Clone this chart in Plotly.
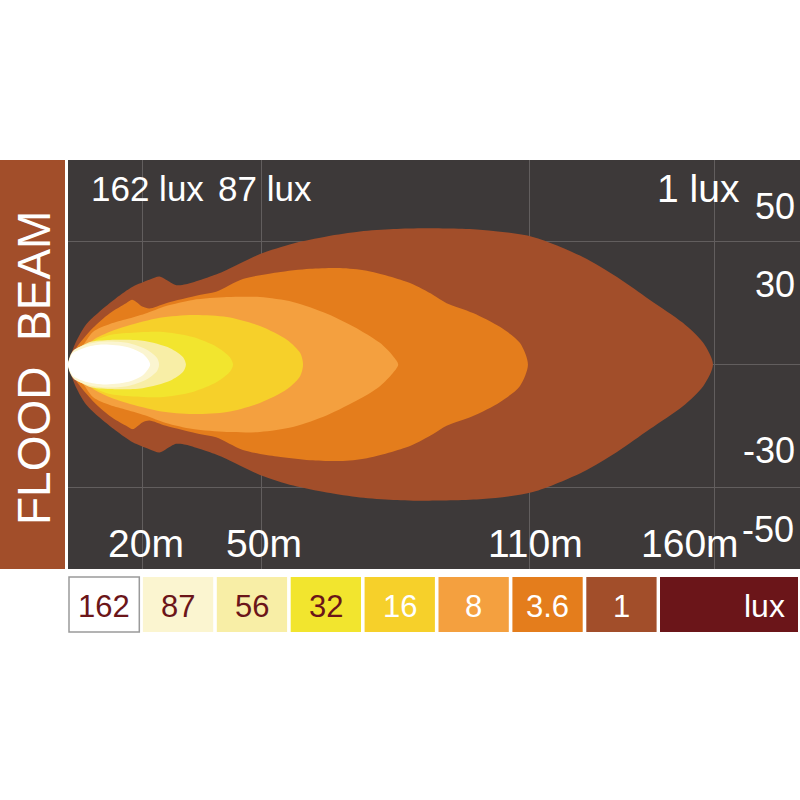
import plotly.graph_objects as go

# ---------------- data ----------------
# Isolux contours: distance along the beam (d) and half-width of the upper edge (h).
# Lower edge is the mirror image of the upper edge.
lux_labels = ["162", "87", "56", "32", "16", "8", "3.6", "1"]
lux_colors = ["#FFFFFF", "#FBF5D0", "#F8EEA6", "#F2E52E", "#F6D02A", "#F4A03F", "#E47D1C", "#A24E2A"]
lux_text_colors = ["#6B1519", "#6B1519", "#6B1519", "#6B1519", "#FFFFFF", "#FFFFFF", "#FFFFFF", "#FFFFFF"]
unit_label = "lux"
unit_color = "#6B1519"

d_1 = [0, 0.7, 2.0, 4.4, 7.7, 11.8, 15.9, 20.0, 22.5, 24.1, 26.6, 29.0, 32.3, 36.4, 39.0,
       47.2, 55.4, 63.6, 71.8, 80.0, 88.2, 102.0, 114.3, 126.6, 135.0, 143.1, 151.2, 156.2, 158.6]
h_1 = [0, 2.3, 5.6, 9.7, 12.9, 16.2, 19.0, 20.7, 21.5, 20.7, 19.4, 19.6, 20.6, 22.0, 23.1,
       27.0, 29.6, 31.3, 32.5, 33.1, 33.3, 32.9, 31.2, 26.3, 21.4, 15.8, 10.2, 5.3, 0]

d_3_6 = [0, 1.0, 2.0, 6.1, 10.2, 14.3, 15.9, 18.4, 20.0, 24.1, 32.3, 36.4, 43.0, 51.4, 59.5,
         66.9, 73.5, 84.1, 89.8, 93.1, 99.6, 106.2, 111.1, 113.1]
h_3_6 = [0, 1.8, 4.0, 8.9, 12.5, 15.0, 15.8, 14.1, 13.7, 15.0, 17.0, 17.8, 20.9, 22.5, 23.4,
         23.6, 22.9, 19.9, 17.0, 15.0, 12.6, 9.2, 5.3, 0]

d_8 = [0, 1.5, 3.0, 6.2, 10.3, 14.5, 18.9, 24.1, 30.7, 39.1, 47.2, 55.3, 63.7, 71.8, 76.7, 79.9, 81.2]
h_8 = [0, 1.8, 3.6, 8.0, 9.9, 11.1, 12.4, 14.3, 15.8, 16.5, 16.5, 15.3, 12.4, 8.4, 5.3, 2.1, 0]

d_16 = [0, 1.7, 4.2, 6.2, 10.3, 14.5, 22.6, 30.7, 39.1, 47.2, 53.9, 57.1, 57.8]
h_16 = [0, 1.6, 3.8, 6.0, 8.0, 9.4, 11.4, 12.1, 11.6, 9.4, 6.0, 2.8, 0]

d_32 = [0, 2.0, 4.2, 6.2, 10.3, 14.5, 22.6, 30.7, 36.6, 39.8, 40.6]
h_32 = [0, 1.7, 3.5, 5.6, 7.2, 7.7, 8.0, 6.7, 4.3, 1.8, 0]

d_56 = [0, 0.7, 2.5, 5.4, 10.3, 18.4, 25.1, 28.3, 29.0]
h_56 = [0, 2.1, 4.0, 5.5, 6.0, 5.8, 4.0, 1.8, 0]

d_87 = [0, 0.5, 1.5, 4.9, 8.6, 14.5, 19.4, 21.9, 22.4]
h_87 = [0, 2.1, 3.6, 5.0, 5.6, 5.3, 3.6, 1.6, 0]

d_162 = [0, 0.5, 1.2, 4.7, 8.6, 14.5, 18.4, 20.2]
h_162 = [0, 1.6, 2.8, 4.3, 4.9, 4.3, 2.6, 0]

# grid lines (chart units) and in-chart labels
grid_x = [18.2, 47.7, 113.4, 158.9]
grid_y = [-30, 0, 30]
distance_labels = ["20m", "50m", "110m", "160m"]
width_labels = ["50", "30", "-30", "-50"]
top_labels = ["162 lux", "87 lux", "1 lux"]
title_text = "FLOOD  BEAM"

# ---------------- figure ----------------
W, H = 800, 800
BG = "#3D3939"
GRID = "#625E5E"
FONT = "Liberation Sans, Arial, Helvetica, sans-serif"

contours = [(d_1, h_1), (d_3_6, h_3_6), (d_8, h_8), (d_16, h_16),
            (d_32, h_32), (d_56, h_56), (d_87, h_87), (d_162, h_162)]
contour_colors = list(reversed(lux_colors))

fig = go.Figure()
for (d, h), col in zip(contours, contour_colors):
    xs = list(d) + list(reversed(d[:-1]))
    ys = list(h) + [-v for v in reversed(h[:-1])]
    fig.add_trace(go.Scatter(
        x=xs, y=ys, mode="lines", fill="toself", fillcolor=col,
        line=dict(color=col, width=0, shape="spline", smoothing=0.8),
        hoverinfo="skip", showlegend=False))

def px(x):
    return x / W

def py(y):
    return 1 - y / H

fig.update_layout(
    width=W, height=H, margin=dict(l=0, r=0, t=0, b=0),
    paper_bgcolor="white", plot_bgcolor=BG, showlegend=False,
    xaxis=dict(domain=[px(68), 1], range=[0, 180], tickvals=grid_x, showticklabels=False,
               showgrid=True, gridcolor=GRID, gridwidth=1, zeroline=False, ticks="",
               fixedrange=True, showline=False),
    yaxis=dict(domain=[py(569), py(160)], range=[-50, 50], tickvals=grid_y, showticklabels=False,
               showgrid=True, gridcolor=GRID, gridwidth=1, zeroline=False, ticks="",
               fixedrange=True, showline=False),
)

shapes = []
annotations = []

# left title band
shapes.append(dict(type="rect", xref="paper", yref="paper", x0=0, x1=px(65), y0=py(569), y1=py(160),
                   fillcolor="#A24E2A", line=dict(width=0), layer="above"))
annotations.append(dict(text=title_text, x=px(34), y=py(368), xref="paper", yref="paper",
                        textangle=-90, showarrow=False, xanchor="center", yanchor="middle",
                        font=dict(family=FONT, size=46, color="white")))

# labels inside the chart
top_pos = [(147, 189, 35), (265, 189, 35), (698, 189, 39)]
for t, (x, y, s) in zip(top_labels, top_pos):
    annotations.append(dict(text=t, x=px(x), y=py(y), xref="paper", yref="paper", showarrow=False,
                            xanchor="center", yanchor="middle", font=dict(family=FONT, size=s, color="white")))
dist_pos = [(146, 543), (264, 543), (535, 543), (690, 543)]
for t, (x, y) in zip(distance_labels, dist_pos):
    annotations.append(dict(text=t, x=px(x), y=py(y), xref="paper", yref="paper", showarrow=False,
                            xanchor="center", yanchor="middle", font=dict(family=FONT, size=39, color="white")))
width_pos = [(775, 206), (775, 284), (769, 450), (768, 529)]
for t, (x, y) in zip(width_labels, width_pos):
    annotations.append(dict(text=t, x=px(x), y=py(y), xref="paper", yref="paper", showarrow=False,
                            xanchor="center", yanchor="middle", font=dict(family=FONT, size=36, color="white")))

# legend boxes
box_top, box_bot = 577, 632
for i, (lab, col, tcol) in enumerate(zip(lux_labels, lux_colors, lux_text_colors)):
    x0 = 69 + i * 73.9
    x1 = x0 + 70.3
    line = dict(color="#9A9A9A", width=1.5) if col == "#FFFFFF" else dict(width=0)
    shapes.append(dict(type="rect", xref="paper", yref="paper", x0=px(x0), x1=px(x1),
                       y0=py(box_bot), y1=py(box_top), fillcolor=col, line=line))
    annotations.append(dict(text=lab, x=px((x0 + x1) / 2), y=py(606), xref="paper", yref="paper",
                            showarrow=False, xanchor="center", yanchor="middle",
                            font=dict(family=FONT, size=31, color=tcol)))
shapes.append(dict(type="rect", xref="paper", yref="paper", x0=px(660), x1=px(798),
                   y0=py(box_bot), y1=py(box_top), fillcolor=unit_color, line=dict(width=0)))
annotations.append(dict(text=unit_label, x=px(787), y=py(606), xref="paper", yref="paper",
                        showarrow=False, xanchor="right", yanchor="middle",
                        font=dict(family=FONT, size=32, color="white")))

fig.update_layout(shapes=shapes, annotations=annotations)
fig.write_html("out.html", config={"displayModeBar": False, "staticPlot": True},
               post_script="document.body.style.margin='0';")
